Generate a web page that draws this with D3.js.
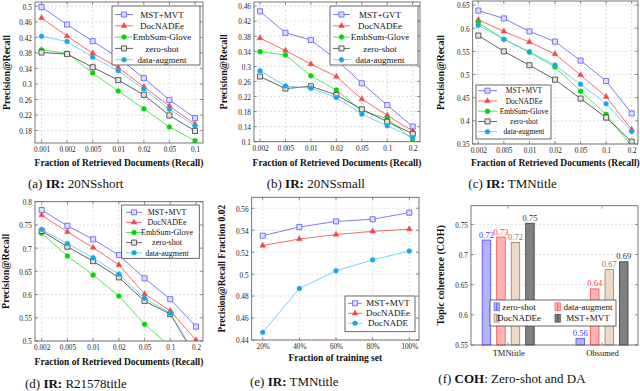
<!DOCTYPE html>
<html>
<head>
<meta charset="utf-8">
<script src="https://cdn.jsdelivr.net/npm/d3@7"></script>
<style>
  body { margin: 0; background: #fff; }
  svg { font-family: "Liberation Serif", "Times New Roman", serif; }
  .grid { stroke: #c8c8c8; stroke-width: 0.6; stroke-dasharray: 2,2; }
  .frame { fill: none; stroke: #555; stroke-width: 0.8; }
  .tickmark { stroke: #555; stroke-width: 0.6; }
</style>
</head>
<body>
<svg id="chart" width="640" height="391"></svg>
<script>
// ---- data ----
var recall1 = ["0.001", "0.002", "0.005", "0.01", "0.02", "0.05", "0.1"];
var recall2 = ["0.002", "0.005", "0.01", "0.02", "0.05", "0.1", "0.2"];

// (a) IR: 20NSshort
var shortMST = [0.498, 0.453, 0.410, 0.368, 0.315, 0.259, 0.212];
var shortDocNADEe = [0.470, 0.423, 0.379, 0.342, 0.293, 0.243, 0.197];
var shortGlove = [0.388, 0.379, 0.328, 0.282, 0.236, 0.189, 0.154];
var shortZero = [0.381, 0.377, 0.343, 0.310, 0.272, 0.219, 0.179];
var shortAug = [0.423, 0.409, 0.369, 0.334, 0.287, 0.235, 0.192];
var ticksA = [0.18, 0.22, 0.26, 0.3, 0.34, 0.38, 0.42, 0.46, 0.5];

// (b) IR: 20NSsmall
var smallMST = [0.446, 0.389, 0.370, 0.318, 0.255, 0.197, 0.140];
var smallDocNADEe = [0.375, 0.342, 0.306, 0.273, 0.213, 0.170, 0.128];
var smallGlove = [0.339, 0.330, 0.275, 0.237, 0.182, 0.161, 0.106];
var smallZero = [0.273, 0.241, 0.247, 0.224, 0.186, 0.153, 0.121];
var smallAug = [0.288, 0.248, 0.242, 0.217, 0.173, 0.142, 0.111];
var ticksB = [0.1, 0.14, 0.18, 0.22, 0.26, 0.3, 0.34, 0.38, 0.42, 0.46];

// (c) IR: TMNtitle
var tmnMST = [0.638, 0.621, 0.593, 0.571, 0.530, 0.486, 0.416];
var tmnDocNADEe = [0.618, 0.593, 0.570, 0.544, 0.499, 0.452, 0.381];
var tmnGlove = [0.612, 0.576, 0.548, 0.516, 0.464, 0.414, 0.345];
var tmnZero = [0.584, 0.550, 0.520, 0.489, 0.448, 0.407, 0.355];
var tmnAug = [0.606, 0.576, 0.549, 0.520, 0.479, 0.437, 0.377];
var ticksC = [0.35, 0.4, 0.45, 0.5, 0.55, 0.6, 0.65];

// (d) IR: R21578title
var r21MST = [0.782, 0.748, 0.719, 0.685, 0.635, 0.590, 0.531];
var r21DocNADEe = [0.771, 0.735, 0.701, 0.664, 0.601, 0.565, 0.502];
var r21Glove = [0.732, 0.683, 0.642, 0.597, 0.536, 0.488, 0.430];
var r21Zero = [0.737, 0.703, 0.672, 0.637, 0.586, 0.558, 0.465];
var r21Aug = [0.740, 0.710, 0.679, 0.644, 0.592, 0.560, 0.468];
var ticksD = [0.5, 0.55, 0.6, 0.65, 0.7, 0.75, 0.8];

// (e) IR: TMNtitle, fraction of training set
var trainFrac = ["20%", "40%", "60%", "80%", "100%"];
var fracMST = [0.535, 0.543, 0.548, 0.550, 0.556];
var fracDocNADEe = [0.526, 0.532, 0.536, 0.539, 0.541];
var fracDocNADE = [0.447, 0.487, 0.503, 0.513, 0.521];
var ticksE = [0.44, 0.46, 0.48, 0.5, 0.52, 0.54, 0.56];

// (f) COH
var cohDatasets = ["TMNtitle", "Ohsumed"];
var cohModels = ["zero-shot", "data-augment", "DocNADEe", "MST+MVT"];
var cohTMN = [0.724, 0.729, 0.720, 0.752];
var cohOhsumed = [0.561, 0.643, 0.675, 0.688];
var cohLabelsTMN = ["0.72", "0.73", "0.72", "0.75"];
var cohLabelsOhsumed = ["0.56", "0.64", "0.67", "0.69"];
var ticksF = [0.55, 0.6, 0.65, 0.7, 0.75];

// ---- styles ----
var mst = { color: "#5b5bf2", fill: "#dcdcff", mark: d3.symbolSquare, size: 26, sw: 0.8 };
var nadee = { color: "#f04848", fill: "#f04848", mark: d3.symbolTriangle, size: 14, sw: 0.5 };
var glove = { color: "#2fe02f", fill: "#00d800", mark: d3.symbolCircle, size: 20, sw: 0.3 };
var zero = { color: "#3a3a3a", fill: "#e2e2e2", mark: d3.symbolSquare, size: 26, sw: 0.8 };
var aug = { color: "#52c8f0", fill: "#16a6e6", mark: d3.symbolCircle, size: 20, sw: 0.3 };

var svg = d3.select("#chart");

function styleTicks(axisG) {
  axisG.select(".domain").remove();
  axisG.selectAll("text")
    .style("font-family", "'Liberation Serif', serif")
    .style("font-size", "9px")
    .attr("fill", "#222")
    .attr("transform", "scale(0.8,1)");
}

function addCaption(x, y, prefix, bold, rest) {
  var t = svg.append("text").attr("x", x).attr("y", y)
    .style("font-size", "13px").attr("fill", "#111");
  t.append("tspan").text(prefix);
  t.append("tspan").style("font-weight", "bold").text(bold);
  t.append("tspan").text(rest);
}

function linePanel(p) {
  var g = svg.append("g");
  var x = d3.scalePoint().domain(p.cats).range([p.left + p.pad[0], p.right - p.pad[1]]);
  var y = d3.scaleLinear().domain(p.yDomain).range([p.bottom, p.top]);

  var clipId = "clip-" + p.name;
  g.append("clipPath").attr("id", clipId).append("rect")
    .attr("x", p.left).attr("y", p.top)
    .attr("width", p.right - p.left).attr("height", p.bottom - p.top);

  // dashed grid
  g.append("g").selectAll("line").data(p.yTicks).enter().append("line")
    .attr("class", "grid")
    .attr("x1", p.left).attr("x2", p.right)
    .attr("y1", function(d) { return y(d); })
    .attr("y2", function(d) { return y(d); });
  g.append("g").selectAll("line").data(p.cats).enter().append("line")
    .attr("class", "grid")
    .attr("x1", function(d) { return x(d); })
    .attr("x2", function(d) { return x(d); })
    .attr("y1", p.top).attr("y2", p.bottom);

  // axes
  var ya = g.append("g").attr("transform", "translate(" + p.left + ",0)")
    .call(d3.axisLeft(y).tickValues(p.yTicks).tickSize(0).tickPadding(4).tickFormat(d3.format("~g")));
  var xa = g.append("g").attr("transform", "translate(0," + p.bottom + ")")
    .call(d3.axisBottom(x).tickSize(0).tickPadding(3));
  styleTicks(ya);
  styleTicks(xa);

  // inner tick marks on all sides
  var tm = g.append("g");
  tm.selectAll(".ly").data(p.yTicks).enter().append("line").attr("class", "tickmark")
    .attr("x1", p.left).attr("x2", p.left + 3)
    .attr("y1", function(d) { return y(d); }).attr("y2", function(d) { return y(d); });
  tm.selectAll(".ry").data(p.yTicks).enter().append("line").attr("class", "tickmark")
    .attr("x1", p.right - 3).attr("x2", p.right)
    .attr("y1", function(d) { return y(d); }).attr("y2", function(d) { return y(d); });
  tm.selectAll(".bx").data(p.cats).enter().append("line").attr("class", "tickmark")
    .attr("x1", function(d) { return x(d); }).attr("x2", function(d) { return x(d); })
    .attr("y1", p.bottom - 3).attr("y2", p.bottom);
  tm.selectAll(".tx").data(p.cats).enter().append("line").attr("class", "tickmark")
    .attr("x1", function(d) { return x(d); }).attr("x2", function(d) { return x(d); })
    .attr("y1", p.top).attr("y2", p.top + 3);

  // series
  var sg = g.append("g").attr("clip-path", "url(#" + clipId + ")");
  p.series.forEach(function(s) {
    var line = d3.line()
      .x(function(d, i) { return x(p.cats[i]); })
      .y(function(d) { return y(d); });
    sg.append("path").datum(s.values)
      .attr("d", line)
      .attr("fill", "none")
      .attr("stroke", s.style.color)
      .attr("stroke-width", 0.8);
    sg.selectAll(null).data(s.values).enter().append("path")
      .attr("transform", function(d, i) { return "translate(" + x(p.cats[i]) + "," + y(d) + ")"; })
      .attr("d", d3.symbol().type(s.style.mark).size(s.style.size))
      .attr("fill", s.style.fill)
      .attr("stroke", s.style.color)
      .attr("stroke-width", s.style.sw);
  });

  g.append("rect").attr("class", "frame")
    .attr("x", p.left).attr("y", p.top)
    .attr("width", p.right - p.left).attr("height", p.bottom - p.top);

  // legend
  var L = p.legend;
  var lg = g.append("g");
  lg.append("rect").attr("x", L.x).attr("y", L.y).attr("width", L.w).attr("height", L.h)
    .attr("fill", "#fff").attr("stroke", "#444").attr("stroke-width", 0.8);
  p.series.forEach(function(s, i) {
    var yy = L.y0 + i * L.dy;
    lg.append("line").attr("x1", L.lx[0]).attr("x2", L.lx[1]).attr("y1", yy).attr("y2", yy)
      .attr("stroke", s.style.color).attr("stroke-width", 0.8);
    lg.append("path")
      .attr("transform", "translate(" + (L.lx[0] + L.lx[1]) / 2 + "," + yy + ")")
      .attr("d", d3.symbol().type(s.style.mark).size(s.style.size))
      .attr("fill", s.style.fill).attr("stroke", s.style.color).attr("stroke-width", s.style.sw);
    lg.append("text").attr("x", L.tx).attr("y", yy).attr("dy", "0.35em")
      .attr("text-anchor", "middle").style("font-size", L.fs + "px").attr("fill", "#111")
      .text(s.name);
  });

  // titles
  g.append("text").attr("x", (p.left + p.right) / 2 + (p.xTitleShift || 0)).attr("y", p.xTitleY)
    .attr("dy", "0.35em").attr("text-anchor", "middle")
    .style("font-size", "9.5px").style("font-weight", "bold").attr("fill", "#111")
    .text(p.xTitle);
  g.append("text")
    .attr("transform", "translate(" + p.yTitleX + "," + (p.top + p.bottom) / 2 + ") rotate(-90)")
    .attr("dy", "0.35em").attr("text-anchor", "middle")
    .style("font-size", p.yTitleFs + "px").style("font-weight", "bold").attr("fill", "#111")
    .text(p.yTitle);
}

var xTitleRecall = "Fraction of Retrieved Documents (Recall)";

linePanel({
  name: "a", left: 35, right: 203, top: 2, bottom: 143, pad: [6.5, 8],
  cats: recall1, yDomain: [0.148, 0.511], yTicks: ticksA,
  series: [
    { name: "MST+MVT", values: shortMST, style: mst },
    { name: "DocNADEe", values: shortDocNADEe, style: nadee },
    { name: "EmbSum-Glove", values: shortGlove, style: glove },
    { name: "zero-shot", values: shortZero, style: zero },
    { name: "data-augment", values: shortAug, style: aug }
  ],
  legend: { x: 112, y: 6, w: 88, h: 59, lx: [115, 133], tx: 162, y0: 14.5, dy: 11.3, fs: 9 },
  xTitle: xTitleRecall, xTitleY: 163, yTitle: "Precision@Recall", yTitleX: 6, yTitleFs: 10
});

linePanel({
  name: "b", left: 254, right: 420, top: 2, bottom: 141.7, pad: [6, 7.3],
  cats: recall2, yDomain: [0.1, 0.4707], yTicks: ticksB,
  series: [
    { name: "MST+GVT", values: smallMST, style: mst },
    { name: "DocNADEe", values: smallDocNADEe, style: nadee },
    { name: "EmbSum-Glove", values: smallGlove, style: glove },
    { name: "zero-shot", values: smallZero, style: zero },
    { name: "data-augment", values: smallAug, style: aug }
  ],
  legend: { x: 330, y: 6, w: 88, h: 59, lx: [333, 350], tx: 380, y0: 14.5, dy: 11.3, fs: 9 },
  xTitle: xTitleRecall, xTitleY: 163, yTitle: "Precision@Recall", yTitleX: 223, yTitleFs: 10
});

linePanel({
  name: "c", left: 472.7, right: 638, top: 1, bottom: 144, pad: [5.6, 6.3],
  cats: recall2, yDomain: [0.35, 0.6586], yTicks: ticksC,
  series: [
    { name: "MST+MVT", values: tmnMST, style: mst },
    { name: "DocNADEe", values: tmnDocNADEe, style: nadee },
    { name: "EmbSum-Glove", values: tmnGlove, style: glove },
    { name: "zero-shot", values: tmnZero, style: zero },
    { name: "data-augment", values: tmnAug, style: aug }
  ],
  legend: { x: 476, y: 85, w: 75, h: 54, lx: [478, 497], tx: 524, y0: 90.7, dy: 10.25, fs: 7.5 },
  xTitle: xTitleRecall, xTitleY: 163, yTitle: "Precision@Recall", yTitleX: 440, yTitleFs: 10
});

linePanel({
  name: "d", left: 35, right: 203, top: 201.7, bottom: 341, pad: [6.7, 7],
  cats: recall2, yDomain: [0.5, 0.8], yTicks: ticksD,
  series: [
    { name: "MST+MVT", values: r21MST, style: mst },
    { name: "DocNADEe", values: r21DocNADEe, style: nadee },
    { name: "EmbSum-Glove", values: r21Glove, style: glove },
    { name: "zero-shot", values: r21Zero, style: zero },
    { name: "data-augment", values: r21Aug, style: aug }
  ],
  legend: { x: 121.7, y: 205, w: 77.6, h: 53.3, lx: [126, 142], tx: 167, y0: 212.3, dy: 10.1, fs: 8 },
  xTitle: xTitleRecall, xTitleY: 361.7, yTitle: "Precision@Recall", yTitleX: 5, yTitleFs: 10
});

linePanel({
  name: "e", left: 251.7, right: 419, top: 197.3, bottom: 340, pad: [11, 9.7],
  cats: trainFrac, yDomain: [0.44, 0.57], yTicks: ticksE,
  series: [
    { name: "MST+MVT", values: fracMST, style: mst },
    { name: "DocNADEe", values: fracDocNADEe, style: nadee },
    { name: "DocNADE", values: fracDocNADE, style: aug }
  ],
  legend: { x: 345, y: 296, w: 70, h: 35.7, lx: [348, 362], tx: 388, y0: 303.3, dy: 10, fs: 9 },
  xTitle: "Fraction of training set", xTitleY: 358, yTitle: "Precision@Recall Fraction 0.02",
  yTitleX: 221.7, yTitleFs: 9.5
});

// ---- (f) bar chart ----
(function() {
  var left = 471, right = 638, top = 205.7, bottom = 345;
  var g = svg.append("g");
  var x0 = d3.scalePoint().domain(cohDatasets).range([508.2, 602]);
  var x1 = d3.scalePoint().domain(cohModels).range([-21.75, 21.75]);
  var y = d3.scaleLinear().domain([0.55, 0.781]).range([bottom, top]);
  var barW = 8.5;
  var fills = ["#b3b3ff", "#ffb3b3", "#ecd8c4", "#808080"];
  var strokes = ["#4a4aff", "#ff4a4a", "#a47c5c", "#3a3a3a"];
  var labelColors = ["#3c3cff", "#ff3c3c", "#9a7050", "#333"];
  var values = [cohTMN, cohOhsumed];
  var labels = [cohLabelsTMN, cohLabelsOhsumed];

  g.append("g").selectAll("line").data(ticksF).enter().append("line")
    .attr("class", "grid")
    .attr("x1", left).attr("x2", right)
    .attr("y1", function(d) { return y(d); }).attr("y2", function(d) { return y(d); });

  var ya = g.append("g").attr("transform", "translate(" + left + ",0)")
    .call(d3.axisLeft(y).tickValues(ticksF).tickSize(0).tickPadding(4).tickFormat(d3.format("~g")));
  styleTicks(ya);
  var xa = g.append("g").attr("transform", "translate(0," + bottom + ")")
    .call(d3.axisBottom(x0).tickSize(0).tickPadding(5));
  styleTicks(xa);
  xa.selectAll("text").attr("transform", null).style("font-size", "8.5px");

  var tm = g.append("g");
  tm.selectAll(".l").data(ticksF).enter().append("line").attr("class", "tickmark")
    .attr("x1", left).attr("x2", left + 3)
    .attr("y1", function(d) { return y(d); }).attr("y2", function(d) { return y(d); });
  tm.selectAll(".r").data(ticksF).enter().append("line").attr("class", "tickmark")
    .attr("x1", right - 3).attr("x2", right)
    .attr("y1", function(d) { return y(d); }).attr("y2", function(d) { return y(d); });
  tm.selectAll(".t").data(cohDatasets).enter().append("line").attr("class", "tickmark")
    .attr("x1", function(d) { return x0(d); }).attr("x2", function(d) { return x0(d); })
    .attr("y1", top).attr("y2", top + 3);
  tm.selectAll(".b").data(cohDatasets).enter().append("line").attr("class", "tickmark")
    .attr("x1", function(d) { return x0(d); }).attr("x2", function(d) { return x0(d); })
    .attr("y1", bottom - 3).attr("y2", bottom);

  cohDatasets.forEach(function(ds, di) {
    var grp = g.append("g");
    grp.selectAll("rect").data(values[di]).enter().append("rect")
      .attr("x", function(d, i) { return x0(ds) + x1(cohModels[i]) - barW / 2; })
      .attr("y", function(d) { return y(d); })
      .attr("width", barW)
      .attr("height", function(d) { return bottom - y(d); })
      .attr("fill", function(d, i) { return fills[i]; })
      .attr("stroke", function(d, i) { return strokes[i]; })
      .attr("stroke-width", 0.8);
    grp.selectAll("text").data(values[di]).enter().append("text")
      .attr("x", function(d, i) { return x0(ds) + x1(cohModels[i]); })
      .attr("y", function(d) { return y(d) - 2.5; })
      .attr("text-anchor", "middle")
      .style("font-size", "8.5px")
      .attr("fill", function(d, i) { return labelColors[i]; })
      .text(function(d, i) { return labels[di][i]; });
  });

  g.append("rect").attr("class", "frame")
    .attr("x", left).attr("y", top).attr("width", right - left).attr("height", bottom - top);

  // legend: two columns
  var lg = g.append("g");
  lg.append("rect").attr("x", 490).attr("y", 300).attr("width", 126).attr("height", 26)
    .attr("fill", "#fff").attr("stroke", "#444").attr("stroke-width", 0.8);
  var cols = [{ icon: 494, tx: 519 }, { icon: 555, tx: 588 }];
  var rows = [306.8, 318.2];
  var order = [[0, 0, 0], [1, 1, 0], [2, 0, 1], [3, 1, 1]]; // model, col, row
  order.forEach(function(o) {
    var c = cols[o[1]], yy = rows[o[2]];
    [0, 3].forEach(function(off) {
      lg.append("rect").attr("x", c.icon + off).attr("y", yy - 4).attr("width", 2.4).attr("height", 8)
        .attr("fill", fills[o[0]]).attr("stroke", strokes[o[0]]).attr("stroke-width", 0.6);
    });
    lg.append("text").attr("x", c.tx).attr("y", yy).attr("dy", "0.35em")
      .attr("text-anchor", "middle").style("font-size", "9px").attr("fill", "#111")
      .text(cohModels[o[0]]);
  });

  g.append("text")
    .attr("transform", "translate(440," + (top + bottom) / 2 + ") rotate(-90)")
    .attr("dy", "0.35em").attr("text-anchor", "middle")
    .style("font-size", "10px").style("font-weight", "bold").attr("fill", "#111")
    .text("Topic coherence (COH)");
})();

// ---- captions ----
addCaption(28, 187.5, "(a) ", "IR:", " 20NSshort");
addCaption(266.7, 187.5, "(b) ", "IR:", " 20NSsmall");
addCaption(468.3, 187.5, "(c) ", "IR:", " TMNtitle");
addCaption(25, 388, "(d) ", "IR:", " R21578title");
addCaption(250, 386, "(e) ", "IR:", " TMNtitle");
addCaption(438.3, 383, "(f) ", "COH", ": Zero-shot and DA");
</script>
</body>
</html>
